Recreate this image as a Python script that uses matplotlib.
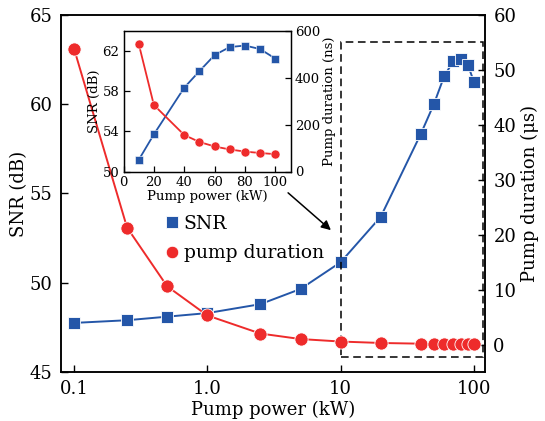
import matplotlib
matplotlib.use("Agg")
import matplotlib.pyplot as plt
from matplotlib.lines import Line2D
from matplotlib.patches import Rectangle

plt.rcParams["font.family"] = ["DejaVu Serif"]
plt.rcParams["mathtext.fontset"] = "dejavuserif"

# data
power = [0.1, 0.25, 0.5, 1.0, 2.5, 5, 10, 20, 40, 50, 60, 70, 80, 90, 100]
snr = [47.75, 47.9, 48.1, 48.3, 48.8, 49.65, 51.15, 53.7, 58.35, 60.0, 61.6,
       62.4, 62.55, 62.2, 61.25]
duration_us = [53.9, 21.3, 10.6, 5.3, 2.0, 1.0, 0.546, 0.284, 0.156, 0.126,
               0.107, 0.094, 0.085, 0.079, 0.074]

# inset: high-power part only
inset_power = power[6:]
inset_snr = snr[6:]
inset_duration_ns = [d * 1000 for d in duration_us[6:]]

BLUE = "#2456a8"
RED = "#ee2b2b"
W, H = 545, 421

fig = plt.figure(figsize=(W / 100, H / 100), dpi=100)


def px_axes(left, top, right, bottom):
    return [left / W, 1 - bottom / H, (right - left) / W, (bottom - top) / H]


ax = fig.add_axes(px_axes(61, 15, 485, 372))
ax2 = ax.twinx()

ax.plot(power, snr, color=BLUE, lw=1.4, marker="s", ms=8.5,
        mec="white", mew=0.6)
ax2.plot(power, duration_us, color=RED, lw=1.4, marker="o", ms=9.5,
         mec="white", mew=0.6)

ax.set_xscale("log")
ax.set_xlim(0.0799, 121)
ax.set_ylim(45, 65)
ax2.set_ylim(-5, 60)
ax.set_xticks([0.1, 1, 10, 100])
ax.set_xticklabels(["0.1", "1.0", "10", "100"])
ax.minorticks_off()
ax.set_yticks([45, 50, 55, 60, 65])
ax2.set_yticks([0, 10, 20, 30, 40, 50, 60])
for a in (ax, ax2):
    a.tick_params(direction="in", length=5, width=1, labelsize=13, pad=6)
    for s in a.spines.values():
        s.set_linewidth(1.1)
ax.set_xlabel("Pump power (kW)", fontsize=13, labelpad=2)
ax.set_ylabel("SNR (dB)", fontsize=13, labelpad=1)
ax2.set_ylabel("Pump duration (μs)", fontsize=13, labelpad=3)

ax2.add_patch(Rectangle((10, -2.2), 106, 57.3, fill=False, ec="black",
                        lw=1.1, ls=(0, (5, 3)), zorder=1))

handles = [
    Line2D([], [], ls="none", marker="s", ms=8, color=BLUE, mec="white", mew=0.6),
    Line2D([], [], ls="none", marker="o", ms=9, color=RED, mec="white", mew=0.6),
]
fig.legend(handles, ["SNR", "pump duration"], loc="upper left",
           bbox_to_anchor=(147 / W, 1 - 198 / H), frameon=False,
           fontsize=13.5, handlelength=0.9, handletextpad=0.15,
           labelspacing=0.6)

ax.annotate("", xy=(333, H - 232), xytext=(286, H - 191),
            xycoords="figure pixels", textcoords="figure pixels",
            arrowprops=dict(arrowstyle="-|>", color="black", lw=1.1,
                            mutation_scale=14))

# inset
ins = fig.add_axes(px_axes(123.5, 31, 290.5, 171.5))
ins2 = ins.twinx()
ins.plot(inset_power, inset_snr, color=BLUE, lw=1.3, marker="s", ms=6,
         mec="white", mew=0.4)
ins2.plot(inset_power, inset_duration_ns, color=RED, lw=1.3, marker="o",
          ms=6.5, mec="white", mew=0.4)
ins.set_xlim(0, 110)
ins.set_ylim(50, 64)
ins2.set_ylim(0, 600)
ins.set_xticks([0, 20, 40, 60, 80, 100])
ins.set_yticks([50, 54, 58, 62])
ins2.set_yticks([0, 200, 400, 600])
for a in (ins, ins2):
    a.tick_params(direction="in", length=4, width=0.9, labelsize=9.5, pad=3)
    for s in a.spines.values():
        s.set_linewidth(0.9)
ins.set_xlabel("Pump power (kW)", fontsize=9.5, labelpad=1)
ins.set_ylabel("SNR (dB)", fontsize=9.5, labelpad=1)
ins2.set_ylabel("Pump duration (ns)", fontsize=9.5, labelpad=2)

fig.savefig("out.png", dpi=100)
